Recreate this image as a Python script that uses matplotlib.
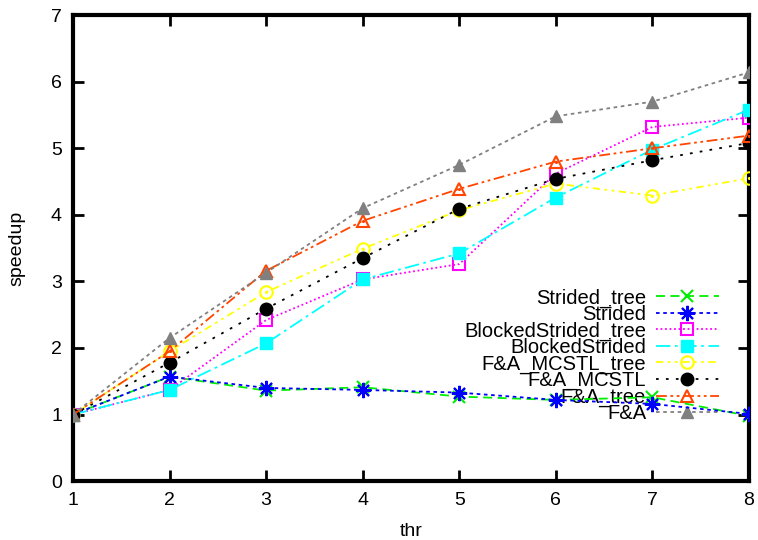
import matplotlib
matplotlib.use("Agg")
import matplotlib.pyplot as plt

plt.rcParams['font.family'] = ['Liberation Sans', 'DejaVu Sans']

thr = [1, 2, 3, 4, 5, 6, 7, 8]
strided_tree = [1.0, 1.57, 1.36, 1.41, 1.27, 1.22, 1.26, 0.98]
strided = [1.0, 1.57, 1.40, 1.37, 1.33, 1.22, 1.16, 1.01]
blocked_strided_tree = [1.0, 1.37, 2.42, 3.03, 3.26, 4.62, 5.32, 5.46]
blocked_strided = [1.0, 1.37, 2.07, 3.03, 3.42, 4.26, 4.98, 5.58]
fa_mcstl_tree = [1.0, 1.95, 2.84, 3.49, 4.07, 4.47, 4.29, 4.55]
fa_mcstl = [1.0, 1.78, 2.59, 3.35, 4.09, 4.54, 4.82, 5.08]
fa_tree = [1.0, 1.95, 3.16, 3.91, 4.39, 4.80, 5.00, 5.19]
fa = [1.0, 2.15, 3.13, 4.10, 4.75, 5.48, 5.70, 6.14]

labels = ["Strided_tree", "Strided", "BlockedStrided_tree", "BlockedStrided",
          "F&A_MCSTL_tree", "F&A_MCSTL", "F&A_tree", "F&A"]
series = [strided_tree, strided, blocked_strided_tree, blocked_strided,
          fa_mcstl_tree, fa_mcstl, fa_tree, fa]

styles = [
    dict(color="#00ee00", ls=(0, (5, 3)), marker="x", ms=9, mfc="none", mew=1.5),
    dict(color="#0000ff", ls=(0, (2, 2)), marker=(8, 2, 0), ms=11, mew=1.5),
    dict(color="#ff00ff", ls=(0, (1, 1.5)), marker="s", ms=9, mfc="none", mew=1.5),
    dict(color="#00ffff", ls=(0, (8, 2.5, 1.5, 2.5)), marker="s", ms=9, mfc="#00ffff", mew=1.0),
    dict(color="#ffff00", ls=(0, (4, 2.5, 1.5, 2.5, 1.5, 2.5)), marker="o", ms=9, mfc="none", mew=1.5),
    dict(color="#000000", ls=(0, (1.5, 4)), marker="o", ms=9, mfc="#000000", mew=1.0),
    dict(color="#ff4500", ls=(0, (6, 2, 1.5, 2, 1.5, 2)), marker="^", ms=9, mfc="none", mew=1.5),
    dict(color="#808080", ls=(0, (2, 2)), marker="^", ms=8, mfc="#808080", mew=1.0),
]

fig = plt.figure(figsize=(7.58, 5.40), dpi=100)
ax = fig.add_axes([0.0963, 0.109, 0.8917, 0.863])

for y, lab, st in zip(series, labels, styles):
    st = dict(st)
    mfc = st.pop("mfc", None)
    kw = dict(lw=1.3, label=lab, zorder=3)
    if mfc is not None:
        kw["mfc"] = mfc
    ax.plot(thr, y, **st, **kw)
    # center dot for open circle/triangle (gnuplot style)
    if st["marker"] in ("o", "^") and mfc == "none":
        ax.plot(thr, y, ls="none", marker=".", ms=2.5, color=st["color"], zorder=3)

ax.set_xlim(1, 8)
ax.set_ylim(0, 7)
ax.set_xticks(thr)
ax.set_yticks(range(0, 8))
ax.tick_params(direction="in", length=8, width=2, top=True, right=True,
               labelsize=14, pad=8)
for sp in ax.spines.values():
    sp.set_linewidth(3)
ax.set_xlabel("thr", fontsize=14, labelpad=10)
ax.set_ylabel("speedup", fontsize=14, labelpad=18)

leg = ax.legend(loc="lower right", bbox_to_anchor=(0.976, 0.094), frameon=False,
                markerfirst=False, fontsize=14.5, handlelength=3.1,
                labelspacing=-0.13, handletextpad=0.5, borderpad=0.2)
for t in leg.get_texts():
    t.set_ha("right")
leg.set_zorder(2)

fig.savefig("out.png", dpi=100)
